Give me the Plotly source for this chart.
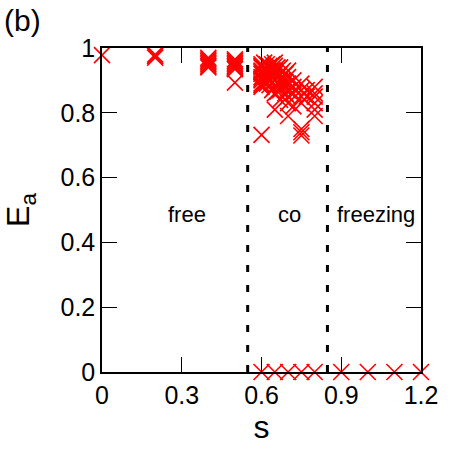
import plotly.graph_objects as go

# --- data ---
s_vals = ([0.0] + [0.2, 0.2, 0.2]
          + [0.4] * 7
          + [0.5] * 8
          + [0.6] * 9
          + [0.62] * 4
          + [0.65] * 8
          + [0.67] * 5
          + [0.7] * 7
          + [0.72] * 4
          + [0.75] * 7
          + [0.77] * 2
          + [0.8] * 6
          + [0.6] * 4
          + [0.61] * 4
          + [0.63] * 4
          + [0.64] * 4
          + [0.66] * 4
          + [0.68] * 3
          + [0.69] * 3
          + [0.6, 0.65, 0.7, 0.75, 0.8, 0.9, 1.0, 1.1, 1.2])
E_vals = ([0.978] + [0.97, 0.975, 0.98]
          + [0.94, 0.945, 0.95, 0.955, 0.96, 0.965, 0.97]
          + [0.935, 0.94, 0.945, 0.95, 0.955, 0.96, 0.965, 0.893]
          + [0.95, 0.94, 0.93, 0.92, 0.91, 0.90, 0.89, 0.88, 0.732]
          + [0.95, 0.93, 0.91, 0.89]
          + [0.955, 0.945, 0.93, 0.92, 0.90, 0.88, 0.86, 0.81]
          + [0.94, 0.92, 0.90, 0.87, 0.84]
          + [0.93, 0.91, 0.89, 0.87, 0.85, 0.83, 0.79]
          + [0.90, 0.88, 0.86, 0.82]
          + [0.89, 0.87, 0.85, 0.83, 0.75, 0.74, 0.73]
          + [0.87, 0.85]
          + [0.88, 0.86, 0.85, 0.83, 0.81, 0.79]
          + [0.945, 0.925, 0.905, 0.885]
          + [0.955, 0.935, 0.915, 0.895]
          + [0.945, 0.925, 0.905, 0.885]
          + [0.95, 0.93, 0.91, 0.87]
          + [0.94, 0.91, 0.89, 0.865]
          + [0.93, 0.90, 0.88]
          + [0.92, 0.895, 0.86]
          + [0.0] * 9)

boundaries = [0.548, 0.848]
region_labels = ["free", "co", "freezing"]
region_x = [0.318, 0.705, 1.032]
region_y = [0.485, 0.485, 0.485]

x_ticks = [0, 0.3, 0.6, 0.9, 1.2]
x_ticklabels = ["0", "0.3", "0.6", "0.9", "1.2"]
y_ticks = [0, 0.2, 0.4, 0.6, 0.8, 1.0]
y_ticklabels = ["0", "0.2", "0.4", "0.6", "0.8", "1"]

FONT = "Liberation Sans, Arial, sans-serif"

fig = go.Figure()

for b in boundaries:
    fig.add_trace(go.Scatter(x=[b, b], y=[0, 1], mode="lines",
                             line=dict(color="black", width=3, dash="7px,13px"),
                             hoverinfo="skip", showlegend=False))

fig.add_trace(go.Scatter(x=s_vals, y=E_vals, mode="markers",
                         marker=dict(symbol="x-thin", size=16, color="red",
                                     line=dict(color="red", width=1.6)),
                         cliponaxis=False, showlegend=False))

for lab, xx, yy in zip(region_labels, region_x, region_y):
    fig.add_annotation(x=xx, y=yy, text=lab, showarrow=False,
                       font=dict(family=FONT, size=22, color="black"))

fig.add_annotation(x=0.0, y=1.0, xref="paper", yref="paper", xanchor="left", yanchor="top",
                   text="(b)", showarrow=False, font=dict(family=FONT, size=30, color="black"),
                   xshift=-100, yshift=46)

axis_common = dict(showgrid=False, zeroline=False, showline=True, linecolor="black",
                   linewidth=1.5, mirror="ticks", ticks="inside", ticklen=15, tickwidth=1,
                   tickcolor="black", tickfont=dict(family=FONT, size=25, color="black"))

fig.update_xaxes(range=[0, 1.2], tickvals=x_ticks, ticktext=x_ticklabels,
                 title=dict(text="s", font=dict(family=FONT, size=32, color="black"), standoff=2),
                 **axis_common)
fig.update_yaxes(range=[0, 1], tickvals=y_ticks, ticktext=y_ticklabels,
                 title=dict(text="E<sub>a</sub>", font=dict(family=FONT, size=32, color="black"), standoff=23),
                 **axis_common)

fig.update_layout(width=450, height=450, margin=dict(l=102, r=25, t=48, b=78),
                  plot_bgcolor="white", paper_bgcolor="white",
                  font=dict(family=FONT, color="black"))

fig.write_html("out.html")
